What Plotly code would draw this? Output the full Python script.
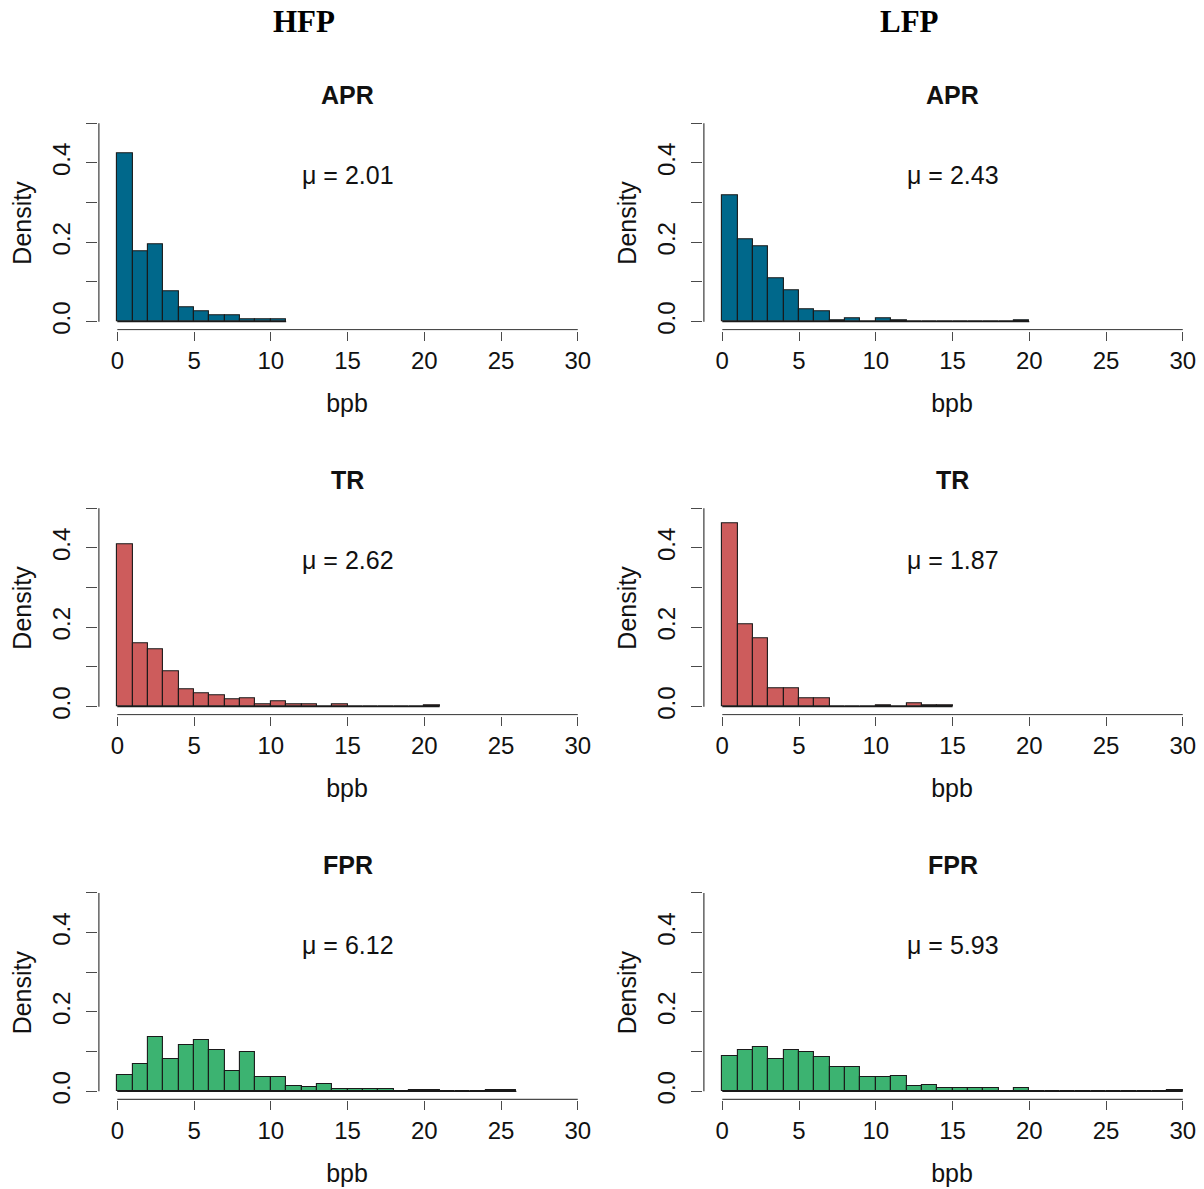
import numpy as np
import plotly.graph_objects as go
from plotly.subplots import make_subplots

# ---------------- data (density per unit-width bin, starting at 0) ----------------
hfp_apr = [0.423, 0.178, 0.195, 0.076, 0.036, 0.025, 0.017, 0.017, 0.006, 0.006, 0.006]
lfp_apr = [0.319, 0.207, 0.189, 0.108, 0.080, 0.031, 0.027, 0.004, 0.008, 0.0,
           0.008, 0.004, 0.0, 0.0, 0.0, 0.0, 0.0, 0.0, 0.0, 0.004]
hfp_tr = [0.409, 0.159, 0.145, 0.089, 0.044, 0.034, 0.029, 0.018, 0.022, 0.007,
          0.014, 0.007, 0.007, 0.0, 0.007, 0.0, 0.0, 0.0, 0.0, 0.0, 0.003]
lfp_tr = [0.463, 0.208, 0.172, 0.045, 0.045, 0.022, 0.022, 0.0, 0.0, 0.0,
          0.004, 0.0, 0.008, 0.004, 0.004]
hfp_fpr = [0.040, 0.070, 0.137, 0.082, 0.118, 0.129, 0.104, 0.052, 0.100, 0.037,
           0.037, 0.014, 0.011, 0.018, 0.007, 0.007, 0.007, 0.007, 0.0, 0.003,
           0.003, 0.0, 0.0, 0.0, 0.003, 0.003]
lfp_fpr = [0.090, 0.104, 0.113, 0.082, 0.104, 0.099, 0.086, 0.062, 0.062, 0.035,
           0.035, 0.039, 0.013, 0.017, 0.008, 0.008, 0.008, 0.008, 0.0, 0.008,
           0.0, 0.0, 0.0, 0.0, 0.0, 0.0, 0.0, 0.0, 0.0, 0.004]

column_titles = ["HFP", "LFP"]
panel_titles = ["APR", "TR", "FPR"]
means = {("HFP", "APR"): "2.01", ("LFP", "APR"): "2.43",
         ("HFP", "TR"): "2.62", ("LFP", "TR"): "1.87",
         ("HFP", "FPR"): "6.12", ("LFP", "FPR"): "5.93"}
series = {("HFP", "APR"): hfp_apr, ("LFP", "APR"): lfp_apr,
          ("HFP", "TR"): hfp_tr, ("LFP", "TR"): lfp_tr,
          ("HFP", "FPR"): hfp_fpr, ("LFP", "FPR"): lfp_fpr}
colors = {"APR": "#00688B", "TR": "#CD5C5C", "FPR": "#3CB371"}

x_ticks = [0, 5, 10, 15, 20, 25, 30]
y_ticks = [0.0, 0.1, 0.2, 0.3, 0.4, 0.5]
y_ticktext = ["0.0", "", "0.2", "", "0.4", ""]
mu_y = 0.37
mu_x = 15

# ---------------- layout geometry ----------------
W, H = 1204, 1189
x_dom = [[0.08136, 0.49518], [0.58385, 0.99767]]
y_dom = [[0.72103, 0.90269], [0.39613, 0.57780], [0.07149, 0.25315]]
x_range = [-1.26, 31.2]
y_range = [-0.0225, 0.52]
axis_col = "#4a4a4a"
font = "Liberation Sans, Arial, Helvetica, sans-serif"

fig = make_subplots(rows=3, cols=2)

annotations = []
shapes = []
for r, panel in enumerate(panel_titles):
    for c, col in enumerate(column_titles):
        dens = series[(col, panel)]
        n = len(dens)
        centers = np.arange(n) + 0.5
        fig.add_trace(go.Bar(x=centers, y=dens, width=1.0,
                             marker=dict(color=colors[panel],
                                         line=dict(color="#1a1a1a", width=1.1)),
                             showlegend=False, hoverinfo="x+y"),
                      row=r + 1, col=c + 1)
        # baseline across all bins (zero-height bins are drawn as a line)
        fig.add_trace(go.Scatter(x=[0, n], y=[0, 0], mode="lines",
                                 line=dict(color="#1a1a1a", width=1.1),
                                 showlegend=False, hoverinfo="skip"),
                      row=r + 1, col=c + 1)
        idx = r * 2 + c + 1
        xa = "x" if idx == 1 else f"x{idx}"
        ya = "y" if idx == 1 else f"y{idx}"
        xaxis_name = "xaxis" if idx == 1 else f"xaxis{idx}"
        yaxis_name = "yaxis" if idx == 1 else f"yaxis{idx}"
        fig.layout[xaxis_name].update(
            domain=x_dom[c], range=x_range, tickvals=x_ticks,
            ticktext=[str(t) for t in x_ticks], tickmode="array",
            showgrid=False, zeroline=False, showline=False,
            ticks="outside", ticklen=9, tickwidth=1.3, tickcolor=axis_col,
            tickfont=dict(family=font, size=24, color="#111"),
            title=dict(text="bpb", font=dict(family=font, size=25, color="#111"),
                       standoff=21),
            fixedrange=True)
        fig.layout[yaxis_name].update(
            domain=y_dom[r], range=y_range, tickvals=y_ticks, ticktext=y_ticktext,
            tickmode="array", tickangle=-90,
            showgrid=False, zeroline=False, showline=False,
            ticks="outside", ticklen=11, tickwidth=1.3, tickcolor=axis_col,
            ticklabelstandoff=6,
            tickfont=dict(family=font, size=24, color="#111"),
            title=dict(text="Density", font=dict(family=font, size=25, color="#111"),
                       standoff=9),
            fixedrange=True)
        # R-style axis lines spanning only the tick range
        shapes.append(dict(type="line", xref=xa, yref=ya, x0=x_ticks[0], x1=x_ticks[-1],
                           y0=-0.02, y1=-0.02, line=dict(color=axis_col, width=1.3)))
        shapes.append(dict(type="line", xref=xa, yref=ya, x0=-1.2, x1=-1.2,
                           y0=y_ticks[0], y1=y_ticks[-1], line=dict(color=axis_col, width=1.3)))
        annotations.append(dict(text=f"<b>{panel}</b>", xref=xa, yref=f"{ya} domain",
                                x=15, y=1, yanchor="middle", yshift=20, showarrow=False,
                                font=dict(family=font, size=25, color="#111")))
        annotations.append(dict(text=f"\u03bc = {means[(col, panel)]}", xref=xa, yref=ya,
                                x=mu_x, y=mu_y, yanchor="middle", showarrow=False,
                                font=dict(family=font, size=25, color="#111")))

for c, col in enumerate(column_titles):
    annotations.append(dict(text=f"<b>{col}</b>", xref="paper", yref="paper",
                            x=[0.2525, 0.755][c], y=0.9815, xanchor="center",
                            yanchor="middle", showarrow=False,
                            font=dict(family="Liberation Serif, Times New Roman, serif",
                                      size=31, color="#000")))

fig.update_layout(width=W, height=H, margin=dict(l=0, r=0, t=0, b=0),
                  paper_bgcolor="white", plot_bgcolor="white",
                  annotations=annotations, shapes=shapes, bargap=0,
                  showlegend=False)

fig.write_html("out.html", config={"displayModeBar": False},
               post_script="document.body.style.margin='0';"
                           "document.body.style.overflow='hidden';")
